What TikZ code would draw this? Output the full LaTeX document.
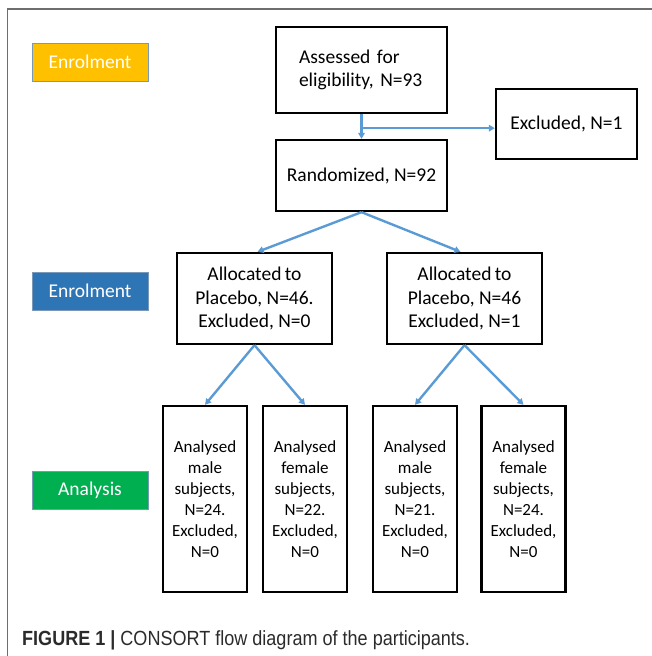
\documentclass[tikz,border=0pt]{standalone}
\usepackage{fontspec}
\setmainfont{Carlito}
\newfontfamily\capfont[FakeStretch=0.88]{Liberation Sans}
\usetikzlibrary{arrows.meta}
\definecolor{arrowblue}{HTML}{5B9BD5}
\definecolor{orangelab}{HTML}{FFC000}
\definecolor{bluelab}{HTML}{2E75B6}
\definecolor{greenlab}{HTML}{00B050}
\definecolor{labedge}{HTML}{7A98B8}
\definecolor{framegray}{HTML}{6E6E6E}
\definecolor{captext}{HTML}{2B2B2B}
\tikzset{
  flowbox/.style={draw=black, line width=2.3pt, fill=white, align=center, inner sep=2pt,
    font=\fontsize{19.5}{23.5}\selectfont},
  smallbox/.style={draw=black, line width=2.3pt, fill=white, align=center, inner sep=1pt,
    minimum width=84pt, minimum height=186pt, font=\fontsize{17}{21}\selectfont},
  labbox/.style={draw=labedge, line width=0.8pt, text=white, minimum width=116pt,
    minimum height=38pt, inner sep=0pt, font=\fontsize{19.5}{23.5}\selectfont},
  flowarrow/.style={draw=arrowblue, line width=2.4pt, -{Triangle[length=6pt,width=6.5pt]}},
  flowline/.style={draw=arrowblue, line width=2.4pt}
}
\begin{document}
\begin{tikzpicture}[x=1pt,y=-1pt]
\useasboundingbox (0,0) rectangle (652,656);
% frame
\draw[framegray, line width=1.5pt] (7.5,656) -- (7.5,9) -- (652,9);
% stage labels
\node[labbox, fill=orangelab] (enrolA) at (90,62) {Enrolment};
\node[labbox, fill=bluelab] (enrolB) at (90,291) {Enrolment};
\node[labbox, fill=greenlab] (analysis) at (90,490.5) {Analysis};
% flow boxes
\node[flowbox, align=left, text width=125pt, inner xsep=23pt, minimum height=86pt] (assess) at (361.5,70)
  {Assessed for\\eligibility, N=93};
\node[flowbox, minimum width=141pt, minimum height=70pt] (excl) at (566.5,124) {Excluded, N=1};
\node[flowbox, minimum width=171pt, minimum height=71pt] (rand) at (361.5,175.5) {Randomized, N=92};
\node[flowbox, minimum width=155pt, minimum height=91pt] (allocL) at (254.5,298.5)
  {Allocated\kern-1pt\ to\\Placebo, N=46.\\Excluded, N=0};
\node[flowbox, minimum width=155pt, minimum height=91pt] (allocR) at (464.5,298.5)
  {Allocated\kern-1pt\ to\\Placebo, N=46\\Excluded, N=1};
\node[smallbox] (b1) at (205,499) {Analysed\\male\\subjects,\\N=24.\\Excluded,\\N=0};
\node[smallbox] (b2) at (305,499) {Analysed\\female\\subjects,\\N=22.\\Excluded,\\N=0};
\node[smallbox] (b3) at (415,499) {Analysed\\male\\subjects,\\N=21.\\Excluded,\\N=0};
\node[smallbox] (b4) at (523.5,499) {Analysed\\female\\subjects,\\N=24.\\Excluded,\\N=0};
% connectors
\coordinate (br) at ([yshift=-14pt]assess.south);
\draw[flowarrow] (assess.south) -- (rand.north);
\draw[flowarrow] (br) -- (br -| excl.west);
\draw[flowarrow] (rand.south) -- ([xshift=3pt]allocL.north);
\draw[flowarrow] (rand.south) -- ([xshift=-4pt]allocR.north);
\draw[flowarrow] (allocL.south) -- (b1.north);
\draw[flowarrow] (allocL.south) -- (b2.north);
\draw[flowarrow] (allocR.south) -- (b3.north);
\draw[flowarrow] (allocR.south) -- (b4.north);
% caption
\node[anchor=base west, inner sep=0pt, text=captext, font=\capfont\fontsize{20.5}{24}\selectfont] (caption) at (22,645)
  {\textbf{FIGURE 1 |} CONSORT flow diagram of the participants.};
\end{tikzpicture}
\end{document}
